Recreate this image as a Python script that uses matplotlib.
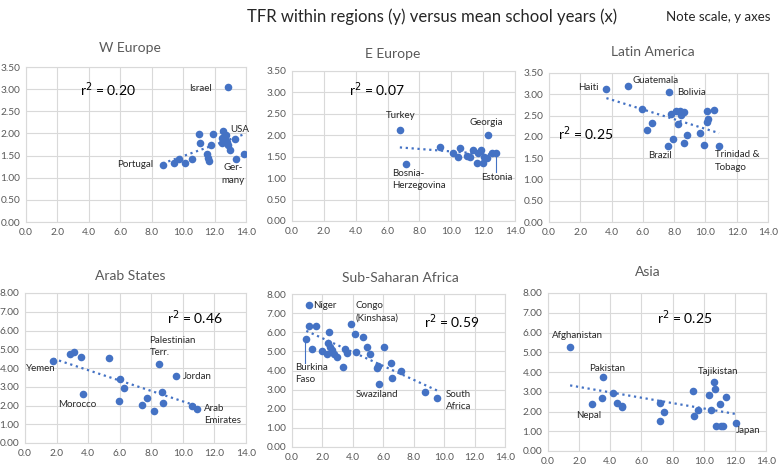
import numpy as np
import matplotlib
matplotlib.use("Agg")
import matplotlib.pyplot as plt

plt.rcParams['font.family'] = ['Lato', 'DejaVu Sans']

BLUE = '#4472C4'
GRID = '#d9d9d9'
TICK = '#595959'

# W Europe
weu_x = [8.7, 9.42, 9.76, 10.14, 10.54, 11.0, 11.1, 11.5, 11.58, 11.67, 11.75, 11.88,
         12.45, 12.45, 12.56, 12.66, 12.7, 12.77, 12.88, 13.0, 13.3, 13.36, 13.9, 12.83]
weu_y = [1.29, 1.33, 1.43, 1.34, 1.42, 1.98, 1.78, 1.54, 1.45, 1.38, 1.73, 1.98,
         1.90, 1.78, 2.05, 1.88, 1.96, 1.81, 1.75, 1.62, 1.88, 1.43, 1.53, 3.05]

# E Europe
eeu_x = [6.77, 7.15, 9.31, 10.08, 10.44, 10.57, 11.0, 11.2, 11.38, 11.64, 11.7, 11.87,
         11.97, 12.05, 12.22, 12.29, 12.54, 12.79]
eeu_y = [2.12, 1.32, 1.72, 1.59, 1.49, 1.71, 1.52, 1.50, 1.66, 1.35, 1.58, 1.66,
         1.35, 1.50, 1.48, 2.00, 1.59, 1.59]

# Latin America
lat_x = [3.67, 5.03, 7.70, 5.95, 6.61, 6.25, 7.82, 8.1, 8.36, 8.47, 8.61, 8.25,
         7.59, 7.93, 8.64, 8.85, 9.64, 9.89, 10.08, 10.17, 10.1, 10.55, 10.87]
lat_y = [3.13, 3.19, 3.05, 2.66, 2.32, 2.17, 2.53, 2.60, 2.60, 2.52, 2.59, 2.30,
         1.79, 1.94, 1.86, 2.04, 2.08, 1.82, 2.35, 2.41, 2.60, 2.64, 1.79]

# Arab States
arab_x = [1.8, 2.88, 3.13, 3.55, 3.66, 5.35, 6.03, 6.26, 5.98, 7.42, 7.7, 8.2,
          8.52, 8.71, 8.77, 9.56, 10.59, 10.89]
arab_y = [4.39, 4.73, 4.86, 4.59, 2.59, 4.54, 3.39, 2.95, 2.25, 2.05, 2.41, 1.71,
          4.23, 2.71, 2.11, 3.59, 1.98, 1.82]

# Sub-Saharan Africa
ssa_x = [1.14, 1.09, 1.58, 0.94, 1.31, 1.99, 2.3, 2.45, 2.39, 2.47, 2.63, 2.78,
         2.93, 3.35, 3.5, 3.59, 3.9, 4.16, 4.22, 4.66, 4.92, 5.1, 5.58, 5.62,
         5.69, 6.06, 6.52, 6.56, 7.16, 8.75, 9.56]
ssa_y = [7.40, 6.31, 6.34, 5.64, 5.14, 5.00, 4.84, 5.99, 5.44, 5.23, 5.09, 4.86,
         4.69, 4.18, 5.12, 4.90, 6.41, 5.92, 4.95, 5.75, 5.23, 4.86, 4.13, 4.22,
         3.29, 5.21, 4.39, 3.59, 3.99, 2.86, 2.54]

# Asia
asia_x = [1.42, 2.81, 3.48, 3.54, 4.18, 4.42, 4.74, 4.76, 7.17, 7.19, 7.45, 9.29,
          9.38, 9.61, 10.36, 10.49, 10.64, 10.71, 10.82, 11.05, 11.09, 11.27, 11.44, 12.08]
asia_y = [5.25, 2.37, 2.69, 3.73, 2.95, 2.44, 2.29, 2.22, 2.44, 1.54, 1.97, 3.05,
          1.75, 2.10, 2.83, 2.10, 3.49, 3.12, 1.25, 2.37, 1.25, 1.25, 2.71, 1.41]

titles = ['W Europe', 'E Europe', 'Latin America', 'Arab States', 'Sub-Saharan Africa', 'Asia']
r2_labels = ['0.20', '0.07', '0.25', '0.46', '0.59', '0.25']

W, H = 778, 466

def px_axes(x0, y0, x1, y1):
    return [x0 / W, 1 - y1 / H, (x1 - x0) / W, (y1 - y0) / H]

fig = plt.figure(figsize=(W / 100, H / 100), dpi=100)

boxes = [px_axes(26, 67, 246, 222), px_axes(292, 71, 515, 221), px_axes(549, 73, 768, 222),
         px_axes(25, 293, 246, 443), px_axes(292, 294, 505, 447), px_axes(548, 293, 766, 451)]
data = [(weu_x, weu_y), (eeu_x, eeu_y), (lat_x, lat_y),
        (arab_x, arab_y), (ssa_x, ssa_y), (asia_x, asia_y)]
title_pos = [(130, 48), (393, 54), (653, 52), (130, 276), (400, 278), (648, 272)]
r2_pos = [(5.24, 2.99), (5.3, 3.06), (2.35, 2.07), (10.76, 6.66), (10.48, 6.57), (8.76, 6.73)]

axes = []
for i, (box, (xs, ys)) in enumerate(zip(boxes, data)):
    ax = fig.add_axes(box)
    top = 3.5 if i < 3 else 8.0
    step = 0.5 if i < 3 else 1.0
    ax.set_xlim(0, 14)
    ax.set_ylim(0, top)
    ax.set_xticks(np.arange(0, 14.1, 2))
    ax.set_yticks(np.arange(0, top + 0.01, step))
    ax.set_xticklabels([f'{v:.1f}' for v in np.arange(0, 14.1, 2)])
    ax.set_yticklabels([f'{v:.2f}' for v in np.arange(0, top + 0.01, step)])
    ax.tick_params(length=0, labelsize=7.3, labelcolor=TICK, pad=4)
    ax.grid(True, color=GRID, linewidth=0.8)
    ax.set_axisbelow(True)
    for s in ax.spines.values():
        s.set_color(GRID)
        s.set_linewidth(0.8)
    ax.scatter(xs, ys, s=30, color=BLUE, zorder=3, linewidths=0)
    xs_a = np.array(xs)
    k, b = np.polyfit(xs_a, np.array(ys), 1)
    xl = np.array([xs_a.min(), xs_a.max()])
    ax.plot(xl, k * xl + b, linestyle=':', color=BLUE, linewidth=1.6, zorder=2)
    rx, ry = r2_pos[i]
    ax.text(rx, ry, f'r$^2$ = {r2_labels[i]}', fontsize=10, ha='center', va='center')
    tx, ty = title_pos[i]
    fig.text(tx / W, 1 - ty / H, titles[i], fontsize=10, color='#595959', ha='center', va='center')
    axes.append(ax)

lab = dict(fontsize=7, color='#262626', va='center')

ax = axes[0]
ax.text(11.86, 3.01, 'Israel', ha='right', **lab)
ax.text(12.98, 2.08, 'USA', ha='left', **lab)
ax.text(8.1, 1.30, 'Portugal', ha='right', **lab)
ax.text(13.17, 1.08, 'Ger-\nmany', ha='center', linespacing=1.5, **lab)

ax = axes[1]
ax.text(6.81, 2.47, 'Turkey', ha='center', **lab)
ax.text(12.22, 2.29, 'Georgia', ha='center', **lab)
ax.text(6.31, 0.97, 'Bosnia-\nHerzegovina', ha='left', linespacing=1.5, **lab)
ax.text(12.83, 1.02, 'Estonia', ha='center', **lab)
ax.plot([12.79, 12.79], [1.59, 1.15], color=BLUE, linewidth=0.8)

ax = axes[2]
ax.text(3.2, 3.15, 'Haiti', ha='right', **lab)
ax.text(5.33, 3.33, 'Guatemala', ha='left', **lab)
ax.text(8.19, 3.05, 'Bolivia', ha='left', **lab)
ax.text(7.08, 1.56, 'Brazil', ha='center', **lab)
ax.text(10.6, 1.43, 'Trinidad &\nTobago', ha='left', linespacing=1.5, **lab)

ax = axes[3]
ax.text(7.89, 5.14, 'Palestinian\nTerr.', ha='left', linespacing=1.5, **lab)
ax.text(0.99, 3.98, 'Yemen', ha='center', **lab)
ax.text(10.0, 3.54, 'Jordan', ha='left', **lab)
ax.text(3.28, 2.07, 'Morocco', ha='center', **lab)
ax.text(11.35, 1.53, 'Arab\nEmirates', ha='left', linespacing=1.5, **lab)

ax = axes[4]
ax.text(1.42, 7.40, 'Niger', ha='left', **lab)
ax.text(4.2, 7.06, 'Congo\n(Kinshasa)', ha='left', linespacing=1.5, **lab)
ax.text(0.18, 3.85, 'Burkina\nFaso', ha='left', linespacing=1.5, **lab)
ax.plot([0.83, 0.83], [5.5, 4.39], color=BLUE, linewidth=0.8)
ax.text(5.58, 2.77, 'Swaziland', ha='center', **lab)
ax.text(10.1, 2.42, 'South\nAfrica', ha='left', linespacing=1.5, **lab)

ax = axes[5]
ax.text(1.87, 5.83, 'Afghanistan', ha='center', **lab)
ax.text(3.8, 4.17, 'Pakistan', ha='center', **lab)
ax.text(2.6, 1.78, 'Nepal', ha='center', **lab)
ax.text(10.9, 4.03, 'Tajikistan', ha='center', **lab)
ax.text(12.83, 1.05, 'Japan', ha='center', **lab)

fig.text(432 / W, 1 - 17 / H, 'TFR within regions (y) versus mean school years (x)',
         fontsize=12, color='#262626', ha='center', va='center')
fig.text(771 / W, 1 - 17 / H, 'Note scale, y axes', fontsize=9.5, color='#262626',
         ha='right', va='center')

fig.savefig('out.png', dpi=100)
